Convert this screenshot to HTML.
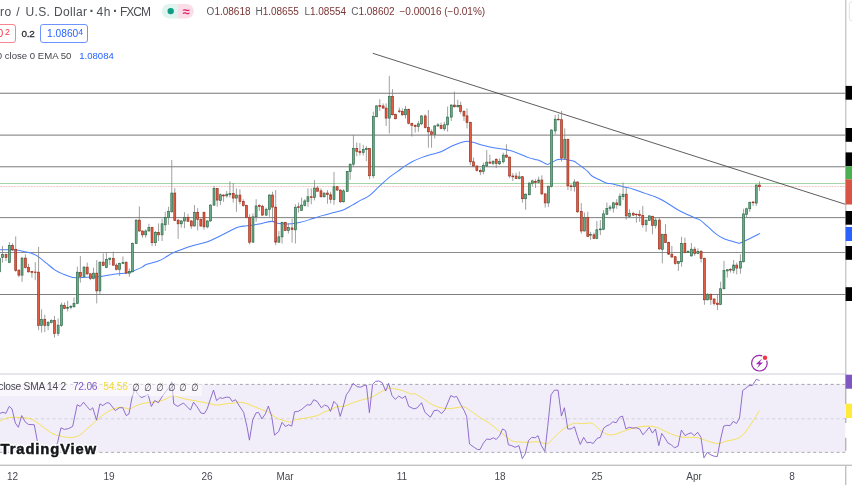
<!DOCTYPE html>
<html lang="en"><head><meta charset="utf-8"><title>EURUSD chart</title>
<style>
html,body{margin:0;padding:0;background:#fff;}
body{width:852px;height:485px;overflow:hidden;position:relative;font-family:"Liberation Sans",sans-serif;}
.t{position:absolute;white-space:nowrap;line-height:1;}
.ttl{font-size:12px;color:#4d4f55;top:5.9px;}
.ohlc{font-size:10px;top:6.6px;color:#5a5c62;}
.ohlc b{font-weight:normal;color:#7a3434;}
.r2{font-size:9.7px;top:28.6px;}
.r3{font-size:9.6px;top:50.9px;color:#44464c;}
.box{position:absolute;box-sizing:border-box;border-radius:3px;}
.ax{font-size:10px;color:#484a51;top:472px;transform:translateX(-50%);}
.rl{font-size:10.2px;top:381.6px;letter-spacing:-0.22px;}
.logo{font-size:14.7px;font-weight:bold;color:#15171c;top:441.6px;left:0.6px;letter-spacing:0.93px;-webkit-text-stroke:0.5px #15171c;text-shadow:1.7px 0 0 #fff,-1.7px 0 0 #fff,0 1.7px 0 #fff,0 -1.7px 0 #fff,1.2px 1.2px 0 #fff,-1.2px 1.2px 0 #fff,1.2px -1.2px 0 #fff,-1.2px -1.2px 0 #fff,0 0 2px #fff;}
sup{font-size:8.8px;vertical-align:baseline;position:relative;top:-1.7px;line-height:0;}
</style></head><body>
<svg width="852" height="485" viewBox="0 0 852 485" style="position:absolute;left:0;top:0">
<rect x="0" y="384.4" width="845.3" height="68" fill="#f1eef9"/>
<rect x="0" y="373" width="845.5" height="2" fill="#e5e6ec"/>
<rect x="0" y="92" width="845.3" height="1" fill="#dcdcdc"/>
<rect x="0" y="93" width="845.3" height="1" fill="#9a9a9a"/>
<rect x="0" y="134" width="845.3" height="1" fill="#c8c8c8"/>
<rect x="0" y="135" width="845.3" height="1" fill="#adadad"/>
<rect x="0" y="166" width="845.3" height="1" fill="#9e9e9e"/>
<rect x="0" y="167" width="845.3" height="1" fill="#dcdcdc"/>
<rect x="0" y="217" width="845.3" height="1" fill="#8e8e8e"/>
<rect x="0" y="218" width="845.3" height="1" fill="#f0f0f0"/>
<rect x="0" y="252" width="845.3" height="1" fill="#8c8c8c"/>
<rect x="0" y="294" width="845.3" height="1" fill="#7e7e7e"/>
<rect x="0" y="183" width="845.3" height="1" fill="#a3d5a6"/>
<line x1="0" y1="186.5" x2="845.3" y2="186.5" stroke="#f4c9c3" stroke-width="1" stroke-dasharray="1.9 0.9"/>
<line x1="372.8" y1="53.3" x2="845.4" y2="204.3" stroke="#404040" stroke-width="0.85"/>
<path d="M0 249.77C1.39 249.77 5.57 249.72 8.35 249.77C11.14 249.83 13.92 249.77 16.71 250.11C19.49 250.44 22.27 251.14 25.06 251.78C27.84 252.42 31.18 253.11 33.41 253.95C35.64 254.78 36.2 255.2 38.42 256.79C40.65 258.37 43.99 261.24 46.78 263.47C49.56 265.7 52.34 268.34 55.13 270.15C57.91 271.96 60.7 273.13 63.48 274.33C66.27 275.53 69.61 276.78 71.83 277.34C74.06 277.89 74.34 277.7 76.85 277.67C79.35 277.64 83.53 277.31 86.87 277.17C90.21 277.03 94.11 277.03 96.89 276.83C99.68 276.64 100.79 276.42 103.58 276C106.36 275.58 110.26 274.8 113.6 274.33C116.94 273.86 120.84 273.49 123.62 273.16C126.41 272.82 128.36 272.82 130.3 272.32C132.25 271.82 133.37 271.02 135.32 270.15C137.26 269.29 140.1 268.12 142 267.15C143.9 266.17 143.97 265.34 146.71 264.31C149.44 263.27 155.34 262.08 158.4 260.96C161.46 259.85 162.72 258.96 165.08 257.62C167.45 256.29 169.54 254.42 172.6 252.95C175.66 251.47 179.7 250.08 183.46 248.77C187.22 247.46 191.25 246.21 195.15 245.09C199.05 243.98 203.23 243.34 206.85 242.09C210.47 240.83 213.53 239.16 216.87 237.58C220.21 235.99 223.55 234.23 226.89 232.56C230.23 230.89 233.85 228.67 236.92 227.55C239.98 226.44 242.48 226.3 245.27 225.88C248.05 225.46 250.84 225.46 253.62 225.05C256.41 224.63 258.91 223.99 261.97 223.38C265.04 222.76 269.21 221.36 272 221.37C274.79 221.39 275.36 223.06 278.71 223.47C282.05 223.88 288.45 224 292.07 223.8C295.69 223.61 297.08 223.14 300.42 222.3C303.76 221.47 308.5 219.91 312.12 218.79C315.74 217.68 318.52 216.65 322.14 215.62C325.76 214.59 330.21 213.59 333.83 212.61C337.45 211.64 340.79 211.02 343.86 209.77C346.92 208.52 349.15 206.82 352.21 205.09C355.27 203.37 359.45 200.94 362.23 199.41C365.02 197.88 366.13 198.02 368.92 195.91C371.7 193.79 375.6 189.78 378.94 186.72C382.28 183.65 385.9 180.04 388.96 177.53C392.03 175.02 394.81 173.49 397.32 171.68C399.82 169.87 401.53 168.33 404 166.67C406.47 165.01 409.12 163.27 412.13 161.72C415.15 160.17 418.77 158.61 422.09 157.37C425.4 156.13 428.89 155.19 432.04 154.26C435.19 153.33 437.68 153.15 441 151.77C444.31 150.4 448.72 147.53 451.94 146.01C455.16 144.49 457.79 143.45 460.29 142.67C462.8 141.89 465.08 141.43 466.97 141.33C468.87 141.24 470.01 141.72 471.68 142.09C473.35 142.45 475.33 143 477 143.5C478.67 144.01 478.69 144.33 481.71 145.09C484.72 145.86 490.89 147.32 495.07 148.1C499.25 148.88 502.87 148.88 506.76 149.77C510.66 150.66 514.84 152.14 518.46 153.45C522.08 154.75 525.72 156.63 528.48 157.62C531.24 158.62 533.3 158.97 535 159.4C536.7 159.83 537.35 159.7 538.7 160.2C540.05 160.7 541.6 161.67 543.1 162.4C544.6 163.13 546.93 164.23 547.7 164.6M547.7 164.6C548.58 164.13 551.28 162.63 553 161.8C554.72 160.97 556.13 160.03 558 159.6C559.87 159.17 562.23 159.1 564.2 159.2C566.17 159.3 568.13 159.85 569.8 160.2C571.47 160.55 572.75 160.62 574.2 161.3C575.65 161.98 576.95 163.18 578.5 164.3C580.05 165.42 581.92 166.77 583.5 168C585.08 169.23 586.59 170.37 588 171.7C589.41 173.03 589.96 174.62 591.96 176C593.96 177.38 597.51 178.8 600.01 180C602.52 181.2 605.05 182.57 607 183.18C608.95 183.79 608.97 183.09 611.71 183.68C614.44 184.26 619.78 185.76 623.4 186.68C627.02 187.6 629.8 188.07 633.42 189.19C637.04 190.3 641.5 192.11 645.12 193.36C648.74 194.62 651.8 195.31 655.14 196.71C658.48 198.1 661.54 199.63 665.16 201.72C668.78 203.81 672.96 207.01 676.86 209.23C680.76 211.46 685.49 213.61 688.55 215.08C691.61 216.56 693.28 217.25 695.23 218.09C697.18 218.92 698.3 218.78 700.25 220.09C702.19 221.4 704.42 223.71 706.93 225.94C709.43 228.17 713.1 231.67 715.28 233.46C717.46 235.25 718.35 235.71 720.02 236.68C721.69 237.66 723.63 238.61 725.3 239.31C726.97 240 727.73 240.18 730.05 240.86C732.36 241.54 737.67 242.98 739.2 243.4M739.2 243.4C740.74 242.7 744.94 240.86 748.42 239.19C751.91 237.51 758.17 234.32 760.12 233.34" fill="none" stroke="#4a80ff" stroke-width="1.02" stroke-linejoin="round"/>
<path d="M-0.5 258.46V271.82M2.51 245.93V262.63M6.01 253.45V260.96M9.36 242.09V263.14M12.53 243.42V250.94M15.7 236.41V271.82M18.88 269.32V277.17M22.05 256.79V281.85M25.39 254.28V268.48M28.57 263.8V272.66M31.91 270.99V277.67M35.25 262.13V280.18M38.59 246.76V330.15M41.6 309.27V332.66M44.77 314.78V332.16M48.11 320.96V330.15M51.29 319.29V323.47M54.46 315.95V337.67M58.14 318.46V336M61.48 302.59V326.81M64.48 302.59V309.27M67.66 300.92V311.44M70.83 305.09V309.27M74.01 297.58V307.6M77.35 266.67V304.26M80.35 255.95V282.68M84.03 265.98V277.67M87.2 262.63V275.16M90.38 273.16V280.18M93.55 267.65V279.34M96.73 260.13V303.42M99.9 261.8V294.74M103.24 253.45V265.98M106.41 252.61V268.15M109.76 257.62V265.14M113.26 251.78V265.98M116.44 263.47V270.49M119.61 262.63V276M122.95 256.45V263.8M126.13 260.96V273.49M129.3 268.48V276.83M132.48 242.59V272.16M136.18 219.29V243.85M139.36 206.43V231.82M142.53 230.49V237.67M145.7 229.32V237.67M148.88 223.8V231.49M152.05 226.81V246.02M155.39 230.99V246.02M158.57 223.47V241.01M162.07 218.79V241.01M165.25 211.78V230.99M168.59 206.76V224.81M171.76 159.99V212.61M174.77 188.05V220.96M178.11 219.29V238.84M181.29 220.13V227.65M184.46 212.11V228.15M187.97 213.78V221.8M191.31 220.13V228.82M194.48 205.09V226.48M197.66 208.1V230.49M200.83 218.46V226.81M204.01 211.78V229.82M207.35 220.13V228.48M210.52 204.26V221.8M214.03 185.88V205.93M217.2 188.05V206.76M220.38 193.4V205.09M223.55 194.23V201.75M226.73 190.89V197.58M229.9 181.37V197.58M233.24 183.04V202.59M236.41 188.39V211.78M239.92 189.22V204.26M243.26 199.25V206.76M246.44 204.76V218.12M249.61 214.28V244.35M252.95 213.45V242.68M256.13 199.25V221.8M259.3 204.26V210.94M262.48 204.76V215.62M266.18 207.6V215.95M269.35 194.23V216.79M272.52 191.73V220.96M275.7 190.06V245.19M278.87 230.99V242.68M282.05 221.8V243.52M285.22 221.8V230.99M288.39 223.47V233.49M292.07 218.79V242.68M295.41 204.26V243.52M298.59 202.59V212.61M301.59 197.58V210.94M304.77 199.25V206.43M307.94 188.39V206.76M311.28 188.39V204.26M314.46 180.04V200.42M317.63 185.88V191.73M320.97 188.39V197.58M324.15 192.56V197.58M327.49 190.06V203.76M330.66 191.73V203.42M334 172.02V204.76M337.18 185.88V190.89M340.35 189.22V203.09M343.52 189.22V202.59M347.2 170.85V191.73M350.18 163.59V179.76M353.41 134.98V166.7M356.77 142.44V156.13M359.88 143.06V155.5M363.24 144.93V155.5M366.35 145.92V161.1M369.59 148.04V179.14M373.32 111.76V178.27M376.6 105.08V117.11M379.77 99.23V110.93M383.11 103.41V108.76M386.12 103.41V125.96M389.29 75.85V133.48M392.47 89.21V115.44M395.64 113.77V119.28M399.32 107.59V113.1M402.32 108.42V115.94M405.5 105.92V118.45M408.67 108.76V124.29M411.85 122.62V136.49M415.19 124.29V132.65M418.36 120.95V131.81M421.54 115.11V125.13M425.21 114.27V128.47M428.38 110.09V147.68M431.56 129.31V147.68M434.73 125.13V138.49M437.91 123.12V126.8M441.08 122.62V129.31M444.42 121.79V130.98M447.6 106.59V131.64M451.27 104.25V120.95M454.45 91.72V107.59M457.79 99.74V107.59M460.63 101.74V113.77M463.97 110.09V120.95M467 108.34V128.39M470.35 121.71V165.14M473.52 157.62V167.15M476.86 165.47V171.49M480.37 168.48V175.16M483.38 162.63V174.33M486.72 150.11V166.48M489.89 154.78V163.8M493.07 160.13V165.14M496.24 158.12V168.15M499.58 158.46V165.14M503.26 152.61V163.47M506.43 144.26V158.12M509.6 156.45V178.17M512.78 173.16V181.01M516.12 172.66V179.01M519.29 171.49V179.34M522.47 176V202.58M525.64 193.39V209.76M529.32 182.53V195.39M532.32 179.69V186.37M535.5 179.19V188.04M538.67 176.68V183.36M541.85 175.35V195.06M545.19 193.39V207.59M548.36 185.87V207.09M551.54 129.22V187.54M555.21 115.02V134.23M558.38 114.19V120.37M561.56 110.85V161.47M564.73 128.39V159.79M567.91 138.41V190.05M571.08 184.2V190.88M574.42 179.19V191.72M577.6 181.36V213.1M581.27 203.08V233.48M584.45 212.6V231.48M587.79 211.76V236.82M590.63 231.81V239.83M593.97 232.65V238.83M596.84 220.93V239.31M600.35 220.09V235.13M603.52 210.07V230.12M606.86 202.55V215.08M610.04 205.06V210.91M613.38 201.72V212.58M616.72 199.21V208.73M619.89 193.36V205.89M623.07 182.51V200.05M626.24 187.52V219.76M629.58 209.23V217.09M633.26 211.74V215.92M636.43 213.41V222.6M639.6 210.07V221.76M642.78 205.89V227.61M646.12 219.76V231.79M649.29 215.08V220.93M652.47 215.92V234.29M655.64 217.59V228.45M659.32 217.59V250.16M662.32 233.79V263.39M665.5 224.27V243.15M668.67 241.81V255.04M671.85 245.85V257.54M675.19 256.2V264.72M678.36 260.88V270.91M681.54 236.8V266.73M684.88 237.63V253.36M688.05 250.36V253.03M691.39 243.01V256.71M694.73 246.68V255.87M697.91 248.35V254.2M701.08 250.02V262.55M704.42 257.54V304.82M707.6 293.12V300.47M710.77 293.46V304.82M714.11 298.47V305.49M717.45 295.13V310.16M720.63 281.76V305.15M723.97 260.88V289.28M727.31 269.23V277.59M730.48 268.4V272.58M733.66 260.05V273.41M736.73 262.58V274.27M740.4 254.22V273.77M743.58 208.77V262.58M746.59 207.6V217.62M749.76 201.75V211.78M753.1 200.92V205.93M756.27 184.21V205.93M759.45 181.37V190.89" stroke="#808080" stroke-width="0.75" fill="none"/>
<g fill="#6aaa87" stroke="#2b6847" stroke-width="0.65"><rect x="-1.48" y="258.46" width="1.95" height="13.36"/><rect x="1.53" y="254.62" width="1.95" height="3.01"/><rect x="8.38" y="245.59" width="1.95" height="17.04"/><rect x="21.08" y="258.12" width="1.95" height="17.04"/><rect x="40.62" y="319.29" width="1.95" height="6.18"/><rect x="47.14" y="322.63" width="1.95" height="2.84"/><rect x="50.31" y="320.63" width="1.95" height="2"/><rect x="57.16" y="325.14" width="1.95" height="8.35"/><rect x="60.5" y="305.09" width="1.95" height="20.38"/><rect x="66.68" y="307.27" width="1.95" height="1.17"/><rect x="69.86" y="306.43" width="1.95" height="0.84"/><rect x="73.03" y="303.42" width="1.95" height="3.34"/><rect x="76.37" y="272.18" width="1.95" height="31.24"/><rect x="83.05" y="267.15" width="1.95" height="9.36"/><rect x="92.58" y="273.16" width="1.95" height="5.35"/><rect x="98.92" y="262.13" width="1.95" height="28.76"/><rect x="105.44" y="259.29" width="1.95" height="8.35"/><rect x="108.78" y="258.12" width="1.95" height="1.5"/><rect x="118.64" y="263.47" width="1.95" height="5.85"/><rect x="121.98" y="262.63" width="1.95" height="0.84"/><rect x="128.33" y="271.32" width="1.95" height="1.84"/><rect x="131.5" y="243.42" width="1.95" height="28.4"/><rect x="135.21" y="220.13" width="1.95" height="23.39"/><rect x="144.73" y="230.99" width="1.95" height="3.84"/><rect x="147.9" y="227.65" width="1.95" height="3.34"/><rect x="154.42" y="232.32" width="1.95" height="10.36"/><rect x="161.1" y="223.8" width="1.95" height="11.03"/><rect x="164.27" y="217.62" width="1.95" height="7.18"/><rect x="167.62" y="211.27" width="1.95" height="6.35"/><rect x="170.79" y="193.07" width="1.95" height="18.71"/><rect x="180.31" y="220.96" width="1.95" height="2.84"/><rect x="183.49" y="217.29" width="1.95" height="3.68"/><rect x="193.51" y="212.28" width="1.95" height="13.7"/><rect x="206.37" y="220.96" width="1.95" height="5.85"/><rect x="209.55" y="205.09" width="1.95" height="15.87"/><rect x="213.05" y="188.39" width="1.95" height="16.71"/><rect x="219.4" y="194.74" width="1.95" height="5.68"/><rect x="225.75" y="194.23" width="1.95" height="1.67"/><rect x="228.92" y="193.4" width="1.95" height="1.34"/><rect x="235.44" y="195.07" width="1.95" height="3.01"/><rect x="251.98" y="216.79" width="1.95" height="25.39"/><rect x="255.15" y="205.93" width="1.95" height="10.86"/><rect x="265.2" y="209.27" width="1.95" height="5.85"/><rect x="268.38" y="195.07" width="1.95" height="14.2"/><rect x="277.9" y="236.83" width="1.95" height="5.35"/><rect x="281.07" y="222.3" width="1.95" height="14.53"/><rect x="287.42" y="227.65" width="1.95" height="2.84"/><rect x="294.44" y="207.27" width="1.95" height="22.55"/><rect x="300.62" y="205.09" width="1.95" height="5.35"/><rect x="303.79" y="200.92" width="1.95" height="4.51"/><rect x="306.97" y="196.74" width="1.95" height="4.68"/><rect x="313.48" y="188.05" width="1.95" height="9.52"/><rect x="323.17" y="193.07" width="1.95" height="3.68"/><rect x="333.03" y="186.72" width="1.95" height="12.86"/><rect x="342.55" y="190.89" width="1.95" height="10.86"/><rect x="346.22" y="171.35" width="1.95" height="20.05"/><rect x="349.2" y="164.21" width="1.95" height="7.46"/><rect x="352.44" y="148.29" width="1.95" height="15.92"/><rect x="362.27" y="149.66" width="1.95" height="2.99"/><rect x="365.38" y="148.66" width="1.95" height="1"/><rect x="372.34" y="116.44" width="1.95" height="59.34"/><rect x="375.62" y="105.92" width="1.95" height="10.86"/><rect x="388.32" y="96.39" width="1.95" height="21.72"/><rect x="404.52" y="109.26" width="1.95" height="5.51"/><rect x="417.39" y="123.79" width="1.95" height="2.67"/><rect x="420.56" y="115.94" width="1.95" height="7.85"/><rect x="433.76" y="125.96" width="1.95" height="8.35"/><rect x="436.93" y="124.79" width="1.95" height="1.17"/><rect x="443.45" y="124.79" width="1.95" height="4.01"/><rect x="446.62" y="117.11" width="1.95" height="7.68"/><rect x="450.3" y="105.08" width="1.95" height="12.03"/><rect x="456.81" y="105.58" width="1.95" height="1.17"/><rect x="482.4" y="165.47" width="1.95" height="6.01"/><rect x="485.74" y="162.13" width="1.95" height="3.84"/><rect x="492.09" y="161.47" width="1.95" height="2"/><rect x="498.61" y="161.47" width="1.95" height="2.34"/><rect x="502.28" y="155.12" width="1.95" height="6.68"/><rect x="518.32" y="176.83" width="1.95" height="1.67"/><rect x="524.67" y="194.22" width="1.95" height="4.51"/><rect x="528.34" y="183.03" width="1.95" height="11.69"/><rect x="531.35" y="180.86" width="1.95" height="2.51"/><rect x="537.7" y="180.02" width="1.95" height="2.51"/><rect x="547.39" y="186.2" width="1.95" height="16.71"/><rect x="550.56" y="130.06" width="1.95" height="56.31"/><rect x="554.24" y="119.2" width="1.95" height="11.69"/><rect x="563.76" y="139.58" width="1.95" height="18.54"/><rect x="573.45" y="182.03" width="1.95" height="4.68"/><rect x="583.47" y="217.61" width="1.95" height="13.36"/><rect x="589.65" y="234.32" width="1.95" height="0.84"/><rect x="595.86" y="229.78" width="1.95" height="8.69"/><rect x="599.37" y="228.95" width="1.95" height="0.84"/><rect x="602.54" y="213.91" width="1.95" height="15.37"/><rect x="605.89" y="208.4" width="1.95" height="5.85"/><rect x="609.06" y="207.06" width="1.95" height="1.34"/><rect x="612.4" y="202.89" width="1.95" height="5.18"/><rect x="618.92" y="196.2" width="1.95" height="8.85"/><rect x="622.09" y="194.2" width="1.95" height="2.51"/><rect x="628.61" y="213.41" width="1.95" height="3.01"/><rect x="645.14" y="220.09" width="1.95" height="4.68"/><rect x="648.32" y="215.92" width="1.95" height="4.51"/><rect x="654.67" y="220.09" width="1.95" height="5.35"/><rect x="661.35" y="234.29" width="1.95" height="15.04"/><rect x="677.39" y="261.38" width="1.95" height="2"/><rect x="680.56" y="243.34" width="1.95" height="18.38"/><rect x="687.08" y="251.36" width="1.95" height="0.84"/><rect x="690.42" y="249.19" width="1.95" height="6.68"/><rect x="696.93" y="251.36" width="1.95" height="2"/><rect x="706.62" y="294.29" width="1.95" height="5.51"/><rect x="719.65" y="288.78" width="1.95" height="15.54"/><rect x="722.99" y="270.57" width="1.95" height="18.21"/><rect x="726.33" y="269.74" width="1.95" height="1.17"/><rect x="732.68" y="265.06" width="1.95" height="5.35"/><rect x="739.43" y="261.41" width="1.95" height="6.68"/><rect x="742.6" y="213.95" width="1.95" height="47.79"/><rect x="745.61" y="208.77" width="1.95" height="5.51"/><rect x="748.78" y="202.25" width="1.95" height="6.52"/><rect x="755.3" y="185.05" width="1.95" height="18.04"/></g>
<g fill="#e25c43" stroke="#9a2d1b" stroke-width="0.65"><rect x="5.04" y="254.62" width="1.95" height="3.01"/><rect x="11.55" y="245.59" width="1.95" height="4.18"/><rect x="14.73" y="249.27" width="1.95" height="21.22"/><rect x="17.9" y="270.15" width="1.95" height="5.01"/><rect x="24.42" y="258.12" width="1.95" height="9.52"/><rect x="27.59" y="267.31" width="1.95" height="4.51"/><rect x="30.93" y="271.49" width="1.95" height="0.84"/><rect x="34.27" y="271.99" width="1.95" height="0.67"/><rect x="37.62" y="272.18" width="1.95" height="53.29"/><rect x="43.8" y="319.29" width="1.95" height="6.18"/><rect x="53.49" y="320.63" width="1.95" height="12.86"/><rect x="63.51" y="305.59" width="1.95" height="2.84"/><rect x="79.38" y="272.32" width="1.95" height="4.18"/><rect x="86.23" y="267.15" width="1.95" height="6.68"/><rect x="89.4" y="273.83" width="1.95" height="4.68"/><rect x="95.75" y="273.16" width="1.95" height="17.73"/><rect x="102.27" y="262.13" width="1.95" height="3.34"/><rect x="112.29" y="258.46" width="1.95" height="6.68"/><rect x="115.46" y="265.14" width="1.95" height="4.18"/><rect x="125.15" y="262.63" width="1.95" height="10.52"/><rect x="138.38" y="220.13" width="1.95" height="10.86"/><rect x="141.55" y="230.99" width="1.95" height="3.84"/><rect x="151.08" y="227.65" width="1.95" height="15.04"/><rect x="157.59" y="232.32" width="1.95" height="2.51"/><rect x="173.8" y="193.07" width="1.95" height="27.4"/><rect x="177.14" y="220.13" width="1.95" height="3.68"/><rect x="186.99" y="217.29" width="1.95" height="4.01"/><rect x="190.33" y="220.96" width="1.95" height="5.01"/><rect x="196.68" y="212.28" width="1.95" height="7.35"/><rect x="199.86" y="219.29" width="1.95" height="6.68"/><rect x="203.03" y="212.28" width="1.95" height="14.53"/><rect x="216.23" y="188.39" width="1.95" height="11.69"/><rect x="222.58" y="195.07" width="1.95" height="0.84"/><rect x="232.27" y="193.4" width="1.95" height="4.68"/><rect x="238.95" y="195.07" width="1.95" height="6.35"/><rect x="242.29" y="201.42" width="1.95" height="4.18"/><rect x="245.46" y="205.43" width="1.95" height="11.86"/><rect x="248.64" y="217.29" width="1.95" height="24.89"/><rect x="258.33" y="205.59" width="1.95" height="0.84"/><rect x="261.5" y="206.26" width="1.95" height="8.85"/><rect x="271.55" y="195.07" width="1.95" height="12.03"/><rect x="274.72" y="207.1" width="1.95" height="35.08"/><rect x="284.25" y="222.3" width="1.95" height="8.19"/><rect x="291.1" y="227.98" width="1.95" height="1.67"/><rect x="297.61" y="206.76" width="1.95" height="0.84"/><rect x="310.31" y="196.74" width="1.95" height="0.67"/><rect x="316.65" y="188.05" width="1.95" height="3.17"/><rect x="320" y="190.89" width="1.95" height="5.85"/><rect x="326.51" y="193.07" width="1.95" height="1.5"/><rect x="329.69" y="194.74" width="1.95" height="4.84"/><rect x="336.2" y="186.72" width="1.95" height="3.34"/><rect x="339.37" y="190.06" width="1.95" height="11.69"/><rect x="355.8" y="148.29" width="1.95" height="3.11"/><rect x="358.91" y="151.4" width="1.95" height="1.24"/><rect x="368.61" y="148.66" width="1.95" height="27.12"/><rect x="378.8" y="105.58" width="1.95" height="0.84"/><rect x="382.14" y="105.92" width="1.95" height="2.17"/><rect x="385.14" y="108.09" width="1.95" height="10.02"/><rect x="391.49" y="96.39" width="1.95" height="18.38"/><rect x="394.67" y="114.27" width="1.95" height="4.51"/><rect x="398.34" y="110.93" width="1.95" height="0.67"/><rect x="401.35" y="111.43" width="1.95" height="3.34"/><rect x="407.7" y="109.26" width="1.95" height="14.2"/><rect x="410.87" y="123.46" width="1.95" height="2"/><rect x="414.21" y="125.46" width="1.95" height="1"/><rect x="424.24" y="115.94" width="1.95" height="11.69"/><rect x="427.41" y="127.63" width="1.95" height="4.18"/><rect x="430.58" y="131.81" width="1.95" height="2.51"/><rect x="440.11" y="125.63" width="1.95" height="2.84"/><rect x="453.47" y="105.08" width="1.95" height="1.67"/><rect x="459.65" y="105.58" width="1.95" height="5.85"/><rect x="462.99" y="111.43" width="1.95" height="4.51"/><rect x="466.03" y="115.86" width="1.95" height="6.68"/><rect x="469.37" y="122.54" width="1.95" height="39.26"/><rect x="472.54" y="161.8" width="1.95" height="4.18"/><rect x="475.89" y="165.98" width="1.95" height="4.51"/><rect x="479.39" y="170.49" width="1.95" height="1.34"/><rect x="488.92" y="162.13" width="1.95" height="1"/><rect x="495.26" y="159.29" width="1.95" height="4.18"/><rect x="505.46" y="155.12" width="1.95" height="2"/><rect x="508.63" y="157.12" width="1.95" height="18.88"/><rect x="511.8" y="176" width="1.95" height="0.84"/><rect x="515.14" y="176" width="1.95" height="2.51"/><rect x="521.49" y="176.68" width="1.95" height="22.05"/><rect x="534.52" y="181.36" width="1.95" height="1.17"/><rect x="540.87" y="180.02" width="1.95" height="13.87"/><rect x="544.21" y="193.89" width="1.95" height="9.02"/><rect x="557.41" y="119.2" width="1.95" height="0.67"/><rect x="560.58" y="119.7" width="1.95" height="38.42"/><rect x="566.93" y="139.58" width="1.95" height="46.29"/><rect x="570.11" y="185.87" width="1.95" height="0.84"/><rect x="576.62" y="182.03" width="1.95" height="29.74"/><rect x="580.3" y="211.43" width="1.95" height="19.55"/><rect x="586.81" y="217.61" width="1.95" height="18.88"/><rect x="592.99" y="234.82" width="1.95" height="3.68"/><rect x="615.74" y="202.89" width="1.95" height="1.84"/><rect x="625.26" y="194.2" width="1.95" height="21.72"/><rect x="632.28" y="213.41" width="1.95" height="1.67"/><rect x="635.46" y="214.25" width="1.95" height="0.5"/><rect x="638.63" y="214.25" width="1.95" height="1.34"/><rect x="641.8" y="215.42" width="1.95" height="9.36"/><rect x="651.49" y="216.25" width="1.95" height="9.19"/><rect x="658.34" y="220.09" width="1.95" height="28.73"/><rect x="664.52" y="234.29" width="1.95" height="8.35"/><rect x="667.7" y="242.65" width="1.95" height="11.55"/><rect x="670.87" y="254.2" width="1.95" height="2.84"/><rect x="674.21" y="256.71" width="1.95" height="6.68"/><rect x="683.9" y="243.34" width="1.95" height="9.19"/><rect x="693.76" y="249.19" width="1.95" height="4.18"/><rect x="700.11" y="251.36" width="1.95" height="7.02"/><rect x="703.45" y="258.38" width="1.95" height="41.43"/><rect x="709.8" y="294.29" width="1.95" height="5.01"/><rect x="713.14" y="298.97" width="1.95" height="4.51"/><rect x="716.48" y="303.15" width="1.95" height="1.5"/><rect x="729.51" y="269.23" width="1.95" height="0.84"/><rect x="735.75" y="265.08" width="1.95" height="3.01"/><rect x="752.13" y="202.09" width="1.95" height="0.67"/><rect x="758.47" y="185.05" width="1.95" height="1.67"/></g>
<line x1="0" y1="384.4" x2="845.3" y2="384.4" stroke="#9a9aa0" stroke-width="0.9" stroke-dasharray="3 2.85"/>
<line x1="0" y1="418.8" x2="845.3" y2="418.8" stroke="#cfcdd8" stroke-width="0.9" stroke-dasharray="3 2.85"/>
<line x1="0" y1="452.4" x2="845.3" y2="452.4" stroke="#a4a4aa" stroke-width="0.9" stroke-dasharray="3 2.85"/>
<path d="M0 421.1C1.11 420.6 4.45 418.73 6.68 418.09C8.91 417.45 10.86 417.34 13.36 417.26C15.87 417.17 18.93 417.37 21.72 417.59C24.5 417.82 27.7 417.9 30.07 418.59C32.44 419.29 33.69 420.32 35.92 421.77C38.14 423.22 40.79 425.39 43.43 427.28C46.08 429.17 49.28 431.74 51.79 433.13C54.29 434.52 55.96 434.94 58.47 435.63C60.98 436.33 64.32 437.03 66.82 437.31C69.33 437.58 71.28 437.72 73.5 437.31C75.73 436.89 77.96 436.19 80.19 434.8C82.41 433.41 84.64 430.9 86.87 428.95C89.1 427 91.32 425.05 93.55 423.11C95.78 421.16 98.01 419.07 100.23 417.26C102.46 415.45 104.69 413.64 106.92 412.25C109.14 410.85 111.37 409.74 113.6 408.91C115.83 408.07 118.05 407.32 120.28 407.23C122.51 407.15 125.34 408.13 126.96 408.4C128.58 408.68 128.38 409.38 130 408.91C131.62 408.43 134.45 406.48 136.68 405.56C138.91 404.65 140.86 403.95 143.36 403.39C145.87 402.84 149.21 402.56 151.72 402.22C154.22 401.89 156.17 401.86 158.4 401.39C160.63 400.91 162.72 400.36 165.08 399.38C167.45 398.41 170.37 395.9 172.6 395.54C174.83 395.18 176.08 396.57 178.45 397.21C180.81 397.85 183.74 398.74 186.8 399.38C189.86 400.02 193.48 400.44 196.82 401.05C200.16 401.67 203.5 402.39 206.85 403.06C210.19 403.73 213.81 404.92 216.87 405.06C219.93 405.2 222.44 404.23 225.22 403.89C228.01 403.56 231.63 403.34 233.58 403.06C235.52 402.78 234.97 402.22 236.92 402.22C238.87 402.22 242.48 402.36 245.27 403.06C248.05 403.75 250.84 405.29 253.62 406.4C256.41 407.51 259.46 408.77 261.97 409.74C264.48 410.72 266.45 410.99 268.68 412.25C270.91 413.5 273.14 415.95 275.36 417.26C277.59 418.57 279.82 419.35 282.05 420.1C284.27 420.85 287.06 421.49 288.73 421.77C290.4 422.05 290.96 422.1 292.07 421.77C293.18 421.43 293.18 420.38 295.41 419.76C297.64 419.15 301.82 418.79 305.43 418.09C309.05 417.4 314.07 416.56 317.13 415.59C320.19 414.61 321.58 413.22 323.81 412.25C326.04 411.27 328.27 410.66 330.49 409.74C332.72 408.82 334.95 407.29 337.18 406.73C339.4 406.18 341.35 407.01 343.86 406.4C346.36 405.79 349.15 404.17 352.21 403.06C355.27 401.94 359.17 400.61 362.23 399.72C365.3 398.83 367.8 398.83 370.59 397.71C373.37 396.6 376.43 394.43 378.94 393.04C381.45 391.64 383.81 390.2 385.62 389.36C387.43 388.52 388.41 388.13 389.8 388.02C391.19 387.91 391.88 388.27 393.97 388.69C396.07 389.11 399.56 389.67 402.35 390.53C405.14 391.39 408.62 393.31 410.71 393.87C412.79 394.43 412.93 393.17 414.88 393.87C416.83 394.57 419.48 396.24 422.4 398.05C425.32 399.86 429.08 403.06 432.42 404.73C435.76 406.4 439.38 407.43 442.45 408.07C445.51 408.71 448.01 408.71 450.8 408.57C453.58 408.43 456.79 407.46 459.15 407.23C461.52 407.01 462.77 406.4 465 407.23C467.23 408.07 469.87 410.44 472.52 412.25C475.16 414.06 478.09 416.28 480.87 418.09C483.65 419.9 486.44 421.16 489.22 423.11C492.01 425.05 494.79 427.56 497.58 429.79C500.36 432.01 503.42 434.58 505.93 436.47C508.43 438.36 510.1 440.23 512.61 441.15C515.12 442.07 518.74 441.79 520.96 441.98C523.19 442.18 523.19 442.34 525.97 442.32C528.76 442.29 534.63 441.62 537.69 441.82C540.76 442.01 542.71 443.21 544.38 443.49C546.05 443.76 546.33 444.24 547.72 443.49C549.11 442.73 550.78 440.84 552.73 438.98C554.68 437.11 557.04 434.38 559.41 432.29C561.78 430.21 564.42 427.92 566.93 426.45C569.43 424.97 571.8 423.91 574.45 423.44C577.09 422.97 580.01 423.66 582.8 423.61C585.58 423.55 588.92 422.63 591.15 423.11C593.38 423.58 594.21 424.92 596.16 426.45C598.11 427.98 600.62 430.9 602.85 432.29C605.07 433.69 607.3 434.52 609.53 434.8C611.76 435.08 613.98 434.52 616.21 433.96C618.44 433.41 620.39 432.35 622.89 431.46C625.4 430.57 628.46 429.4 631.25 428.62C634.03 427.84 636.81 427.2 639.6 426.78C642.38 426.36 645.45 426.11 647.95 426.11C650.46 426.11 652.96 426.5 654.63 426.78C656.3 427.06 656.02 426.95 657.97 427.78C659.93 428.62 663.56 430.54 666.35 431.79C669.14 433.05 671.92 434.38 674.71 435.3C677.49 436.22 680.27 436.97 683.06 437.31C685.84 437.64 688.91 437.22 691.41 437.31C693.92 437.39 695.59 437.25 698.09 437.81C700.6 438.36 703.66 439.76 706.45 440.65C709.23 441.54 712.57 442.68 714.8 443.15C717.03 443.63 718.14 443.76 719.81 443.49C721.48 443.21 722.87 442.04 724.82 441.48C726.77 440.92 729.28 440.7 731.5 440.15C733.73 439.59 736.24 439.09 738.19 438.14C740.14 437.19 741.53 436.14 743.2 434.47C744.87 432.79 746.54 430.43 748.21 428.12C749.88 425.81 751.69 422.97 753.22 420.6C754.75 418.23 756.34 415.59 757.4 413.92C758.46 412.25 759.21 411.13 759.57 410.58" fill="none" stroke="#f6e15c" stroke-width="1.0"/>
<path d="M0 413.42L3.01 412.25L5.85 413.42L9.19 406.4L12.03 408.91L15.37 423.11L18.38 427.28L21.72 415.59L25.06 421.77L28.4 424.44L34.25 424.78L37.59 442.32L40.09 449L44.27 450.17L48.45 448.16L51.79 449.5L55.13 449L57.63 442.32L60.98 427.78L64.32 429.45L68.49 428.62L72.67 426.45L77.18 404.73L80.19 406.4L83.53 402.22L86.87 406.4L90.21 410.07L92.72 407.74L96.56 420.1L99.9 403.89L102.74 405.56L106.92 402.72L109.42 403.06L115.27 410.58L119.45 407.74L122.79 407.74L126.13 415.59L128.97 413.92L131.97 397.71L134.48 390.03L135.01 388.86L137.52 393.87L141.36 397.71L145.04 396.04L148.04 394.37L151.38 406.4L154.72 400.55L158.4 402.72L161.74 397.21L165.92 391.36L169.26 387.19L171.76 381.68L173.77 403.89L177.61 406.4L183.46 403.06L187.63 407.23L190.47 410.07L193.48 402.22L196.82 406.4L201 413.08L204.34 413.58L207.18 408.91L210.19 399.72L213.53 390.03L216.54 400.55L219.88 397.71L222.72 398.38L226.06 397.21L229.4 397.21L232.24 401.39L235.58 399.72L239.42 406.07L243.6 412.25L246.94 426.45L249.45 440.15L252.79 419.76L256.13 412.75L258.63 412.58L261.97 418.93L265.34 413.92L268.35 406.07L271.69 416.42L274.53 435.13L278.71 431.46L282.05 422.27L285.39 426.45L288.73 424.78L291.74 426.11L294.58 411.75L297.92 411.41L301.26 409.74L307.11 404.73L310.45 405.06L313.79 399.72L317.13 401.39L321.31 407.74L324.65 405.06L327.99 406.4L330.49 411.41L333.83 401.39L337.18 404.73L340.18 416.42L343.02 407.23L346.36 394.71L348.87 391.36L353.05 383.35L357.22 386.69L360.56 387.19L364.24 385.52L366.41 385.02L369.42 412.75L372.59 384.35L375.6 381.34L378.94 381.01L382.28 382.68L385.62 391.03L388.63 383.35L391.97 395.54L395.31 399.38L398.68 396.04L402.35 398.38L405.36 396.04L408.7 406.4L414.05 408.91L417.39 407.74L421.56 402.72L424.91 412.25L430.42 417.26L434.09 410.58L437.77 410.24L441.61 413.58L444.95 409.74L450.8 395.54L454.14 397.21L456.65 396.38L460.82 404.73L464.16 410.58L466.67 416.42L469.51 443.99L474.19 447.33L477.53 449.5L480.03 449.5L483.38 443.15L486.72 438.98L490.06 439.48L493.4 437.81L496.24 439.48L499.58 435.63L502.59 428.95L505.59 430.62L508.43 444.82L511.77 445.66L515.12 447.33L518.96 445.66L522.3 458.69L525.14 454.01L528.51 440.65L531.85 437.31L535.19 437.81L538.03 435.63L541.37 445.66L544.88 451.5L547.72 426.45L551.06 394.71L554.4 390.2L558.07 390.2L561.42 416.09L564.42 407.74L567.76 428.95L571.11 428.95L574.45 426.78L577.45 436.47L580.29 444.49L583.63 437.31L586.98 442.82L590.32 442.32L593.16 443.49L597 438.47L600.34 437.31L603.68 428.12L607.02 425.61L609.53 424.78L612.87 421.77L616.21 422.77L619.55 417.26L622.56 416.09L625.9 428.95L629.24 427.28L632.92 428.12L636.26 427.78L639.6 428.95L642.94 434.8L645.95 431.46L649.29 427.28L652.46 433.13L655.47 428.95L658.81 445.66L661.68 433.46L665.02 438.14L668.02 443.15L671.36 444.82L674.37 447.83L678.05 446.16L681.39 430.12L685.06 435.63L688.07 433.96L691.08 432.79L694.42 435.63L697.59 432.29L700.93 437.31L703.94 457.85L707.28 452.34L710.12 454.51L713.96 456.18L717.31 456.52L720.65 438.98L723.65 426.11L726.83 425.28L730.17 425.61L733.18 421.43L736.52 423.44L739.52 418.09L742.7 390.53L745.7 388.36L749.05 385.52L752.39 385.52L756.23 379.34L759.57 380.51" fill="none" stroke="#8460c8" stroke-width="0.9" stroke-linejoin="round"/>
<rect x="0" y="379.5" width="201.8" height="16.6" fill="#ffffff" fill-opacity="0.55"/>
<rect x="845.3" y="0" width="1" height="374" fill="#b4b4b4"/>
<rect x="845.3" y="374" width="1" height="30" fill="#9a9aa2"/>
<rect x="845.3" y="418" width="1" height="5" fill="#9a9aa2"/>
<rect x="845.3" y="437.8" width="1" height="13" fill="#9a9aa2"/>
<rect x="845.3" y="465" width="1" height="20" fill="#a8a8a8"/>
<rect x="0" y="464" width="852" height="1" fill="#e6e6e6"/><rect x="0" y="465" width="852" height="1" fill="#c2c2c2"/>
<rect x="845.6" y="85.9" width="6.4" height="13.8" fill="#000"/>
<rect x="845.6" y="128" width="6.4" height="13.8" fill="#000"/>
<rect x="845.6" y="152.4" width="6.4" height="14" fill="#000"/>
<rect x="845.6" y="166.4" width="6.4" height="13" fill="#4caf50"/>
<rect x="845.6" y="179.4" width="6.4" height="25.1" fill="#d85543"/>
<rect x="845.6" y="211" width="6.4" height="13.7" fill="#000"/>
<rect x="845.6" y="227" width="6.4" height="14" fill="#2962ff"/>
<rect x="845.6" y="246" width="6.4" height="13.8" fill="#000"/>
<rect x="845.6" y="287.2" width="6.4" height="13.8" fill="#000"/>
<rect x="845.7" y="374.7" width="6.3" height="14" fill="#7e57c2"/>
<rect x="845.7" y="403.7" width="6.3" height="14.3" fill="#ffeb3b"/>
<rect x="849.3" y="1.5" width="8" height="19.5" rx="3" fill="none" stroke="#e0e3eb" stroke-width="1"/>
<path d="M169.1 3.9H177.8V18.5H169.1A7.3 7.3 0 0 1 169.1 3.9Z" fill="#dff3ef"/>
<path d="M177.8 3.9H186.5A7.3 7.3 0 0 1 186.5 18.5H177.8Z" fill="#fadde7"/>
<circle cx="170.7" cy="11.1" r="3.2" fill="#0f9d85"/>
<circle cx="759.4" cy="363.2" r="7.8" fill="none" stroke="#9c27b0" stroke-width="1.2"/>
<path d="M762.2 358.3L755.9 364.2H759.3L756.9 368.3L762.9 362.4H759.6Z" fill="#9c27b0"/>
<circle cx="765" cy="357.7" r="3.3" fill="#fff"/>
<circle cx="765" cy="357.7" r="2.2" fill="#f23645"/>
</svg>
<div class="t ttl" style="left:-15.6px;letter-spacing:0.45px">Euro</div>
<div class="t ttl" style="left:16.2px">/</div>
<div class="t ttl" style="left:25.6px;letter-spacing:0.33px">U.S. Dollar</div>
<div class="t ttl" style="left:89.6px;font-weight:bold;font-size:14px;top:4.3px">·</div>
<div class="t ttl" style="left:96.6px;letter-spacing:0.6px">4h</div>
<div class="t ttl" style="left:112.9px;font-weight:bold;font-size:14px;top:4.3px">·</div>
<div class="t ttl" style="left:119.9px;letter-spacing:-1px">FXCM</div>
<div class="t" style="left:182.4px;top:4.7px;font-size:13px;color:#e0246b;font-weight:bold">≈</div>
<div class="t ohlc" style="left:206.6px">O<b>1.08618</b></div>
<div class="t ohlc" style="left:255.4px">H<b>1.08655</b></div>
<div class="t ohlc" style="left:304.4px">L<b>1.08554</b></div>
<div class="t ohlc" style="left:351.2px">C<b>1.08602</b></div>
<div class="t ohlc" style="left:399.5px"><b>−0.00016 (−0.01%)</b></div>
<div class="box" style="left:-32.4px;top:24px;width:48px;height:18.6px;border:1px solid #f8858e"></div>
<div class="t r2" style="right:843.9px;color:#f23645;font-size:10.2px;top:28.8px">1.0860<sup style="left:1.8px">2</sup></div>
<div class="t r2" style="left:21.5px;color:#2d2f36;font-size:9.9px;top:28.8px;letter-spacing:-0.3px;-webkit-text-stroke:0.3px #2d2f36">0.2</div>
<div class="box" style="left:40.1px;top:24px;width:48px;height:18.6px;border:1px solid #6e94ff"></div>
<div class="t r2" style="left:47.1px;color:#2962ff;font-size:10.2px;top:28.8px">1.0860<sup>4</sup></div>
<div class="t r3" style="left:-3.3px">0 close 0 EMA 50</div>
<div class="t r3" style="left:79.2px;color:#2962ff">1.08084</div>
<div class="t rl" style="right:786px;color:#4a4c52">RSI 14 close SMA 14 2</div>
<div class="t rl" style="left:72.9px;color:#7e57c2">72.06</div>
<div class="t rl" style="left:103.2px;color:#f5dd3f">54.56</div>
<div class="t rl" style="left:136.3px;color:#3a3c42;transform:translateX(-50%) scaleX(0.8) skewX(-5deg);font-size:10.5px;top:382.3px">∅</div>
<div class="t rl" style="left:148px;color:#3a3c42;transform:translateX(-50%) scaleX(0.8) skewX(-5deg);font-size:10.5px;top:382.3px">∅</div>
<div class="t rl" style="left:159.7px;color:#3a3c42;transform:translateX(-50%) scaleX(0.8) skewX(-5deg);font-size:10.5px;top:382.3px">∅</div>
<div class="t rl" style="left:171.8px;color:#3a3c42;transform:translateX(-50%) scaleX(0.8) skewX(-5deg);font-size:10.5px;top:382.3px">∅</div>
<div class="t rl" style="left:183.1px;color:#3a3c42;transform:translateX(-50%) scaleX(0.8) skewX(-5deg);font-size:10.5px;top:382.3px">∅</div>
<div class="t rl" style="left:194.8px;color:#3a3c42;transform:translateX(-50%) scaleX(0.8) skewX(-5deg);font-size:10.5px;top:382.3px">∅</div>
<div class="t logo">TradingView</div>
<div class="t ax" style="left:12.5px">12</div>
<div class="t ax" style="left:109px">19</div>
<div class="t ax" style="left:207px">26</div>
<div class="t ax" style="left:285px">Mar</div>
<div class="t ax" style="left:402px">11</div>
<div class="t ax" style="left:500px">18</div>
<div class="t ax" style="left:597px">25</div>
<div class="t ax" style="left:694px">Apr</div>
<div class="t ax" style="left:792px">8</div>
</body></html>
